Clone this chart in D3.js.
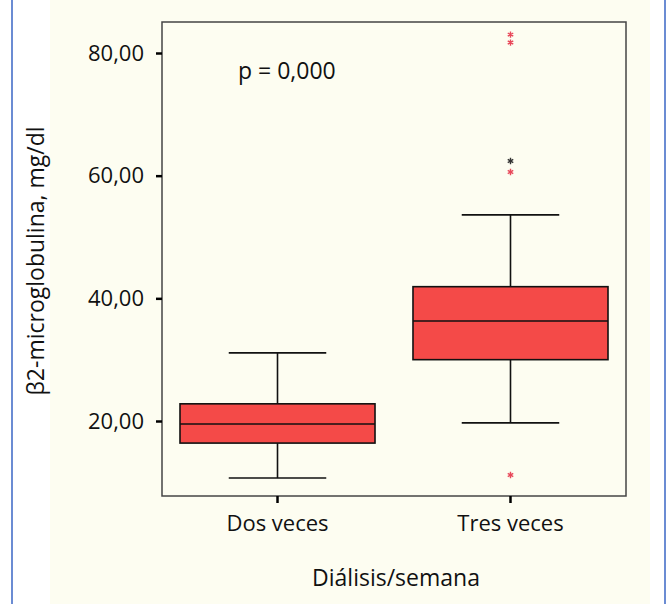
<!DOCTYPE html>
<html lang="es">
<head>
<meta charset="UTF-8">
<title>Boxplot</title>
<script src="https://cdn.jsdelivr.net/npm/d3@7/dist/d3.min.js"></script>
<style>
  body { margin: 0; background: #fff; font-family: "Open Sans", "Noto Sans", sans-serif; }
  text { font-family: "Open Sans", "Noto Sans", sans-serif; }
</style>
</head>
<body>
<div id="chart"></div>
<script>
// box statistics
var groups = ["Dos veces", "Tres veces"];
var whiskerLow = [10.7, 19.7];
var q1 = [16.4, 30.0];
var median = [19.5, 36.3];
var q3 = [22.8, 41.9];
var whiskerHigh = [31.1, 53.6];
var outliers = [
  {g: "Tres veces", v: 11.2, c: "#e8485a"},
  {g: "Tres veces", v: 60.6, c: "#e8485a"},
  {g: "Tres veces", v: 62.4, c: "#333"},
  {g: "Tres veces", v: 81.7, c: "#e8485a"},
  {g: "Tres veces", v: 83.0, c: "#e8485a"}
];
var yTicks = [20, 40, 60, 80];

var W = 672, H = 604;
var svg = d3.select("#chart").append("svg").attr("width", W).attr("height", H);

// page panel
svg.append("rect").attr("x", 50).attr("y", 0).attr("width", 600).attr("height", H).attr("fill", "#fdfdf1");
svg.append("line").attr("x1", 12).attr("x2", 12).attr("y1", 0).attr("y2", H).attr("stroke", "#3a66c4").attr("stroke-width", 1.5);
svg.append("line").attr("x1", 665).attr("x2", 665).attr("y1", 0).attr("y2", H).attr("stroke", "#3a66c4").attr("stroke-width", 1.5);

var pLeft = 162, pRight = 626, pTop = 22, pBottom = 496;
var y = d3.scaleLinear().domain([20, 80]).range([421, 53]);
var x = d3.scaleBand().domain(groups).range([180, 608]).paddingInner(0.163).paddingOuter(0);

var g = svg.append("g");
g.append("rect").attr("x", pLeft).attr("y", pTop).attr("width", pRight - pLeft).attr("height", pBottom - pTop)
  .attr("fill", "none").attr("stroke", "#444").attr("stroke-width", 1.5);

// y axis
var ya = g.append("g").attr("transform", "translate(" + pLeft + ",0)")
  .call(d3.axisLeft(y).tickValues(yTicks).tickSize(6).tickFormat(function (d) { return d3.format(".2f")(d).replace(".", ","); }));
ya.attr("font-size", null).attr("font-family", null);
ya.select(".domain").remove();
ya.selectAll("line").attr("stroke", "#000").attr("stroke-width", 2.5);
ya.selectAll("text").style("font-size", "22px").attr("fill", "#111").attr("dx", -9);

// x axis
var xa = g.append("g").attr("transform", "translate(0," + pBottom + ")")
  .call(d3.axisBottom(x).tickSize(7).tickPadding(12));
xa.attr("font-size", null).attr("font-family", null);
xa.select(".domain").remove();
xa.selectAll("line").attr("stroke", "#000").attr("stroke-width", 2.5);
xa.selectAll("text").style("font-size", "22px").attr("fill", "#111");

groups.forEach(function (name, i) {
  var x0 = x(name), bw = x.bandwidth(), cx = x0 + bw / 2, cw = bw * 0.5;
  var s = g.append("g").attr("stroke", "#111").attr("stroke-width", 1.6);
  s.append("line").attr("x1", cx).attr("x2", cx).attr("y1", y(whiskerLow[i])).attr("y2", y(q1[i]));
  s.append("line").attr("x1", cx).attr("x2", cx).attr("y1", y(q3[i])).attr("y2", y(whiskerHigh[i]));
  s.append("line").attr("x1", cx - cw / 2).attr("x2", cx + cw / 2).attr("y1", y(whiskerLow[i])).attr("y2", y(whiskerLow[i]));
  s.append("line").attr("x1", cx - cw / 2).attr("x2", cx + cw / 2).attr("y1", y(whiskerHigh[i])).attr("y2", y(whiskerHigh[i]));
  s.append("rect").attr("x", x0).attr("y", y(q3[i])).attr("width", bw).attr("height", y(q1[i]) - y(q3[i])).attr("fill", "#f44a48");
  s.append("line").attr("x1", x0).attr("x2", x0 + bw).attr("y1", y(median[i])).attr("y2", y(median[i]));
});

g.selectAll(".out").data(outliers).enter().append("path")
  .attr("transform", function (d) { return "translate(" + (x(d.g) + x.bandwidth() / 2) + "," + y(d.v) + ")"; })
  .attr("d", d3.symbol(d3.symbolAsterisk, 28))
  .attr("fill", "none").attr("stroke-width", 1.4)
  .attr("stroke", function (d) { return d.c; });

svg.append("text").attr("x", 238).attr("y", 79).style("font-size", "23px").attr("fill", "#111").text("p = 0,000");

svg.append("text").attr("transform", "translate(44,261) rotate(-90)").attr("text-anchor", "middle")
  .style("font-size", "23px").attr("fill", "#111").text("β2-microglobulina, mg/dl");
svg.append("text").attr("x", 396).attr("y", 586).attr("text-anchor", "middle")
  .style("font-size", "23px").attr("fill", "#111").text("Diálisis/semana");
</script>
</body>
</html>
